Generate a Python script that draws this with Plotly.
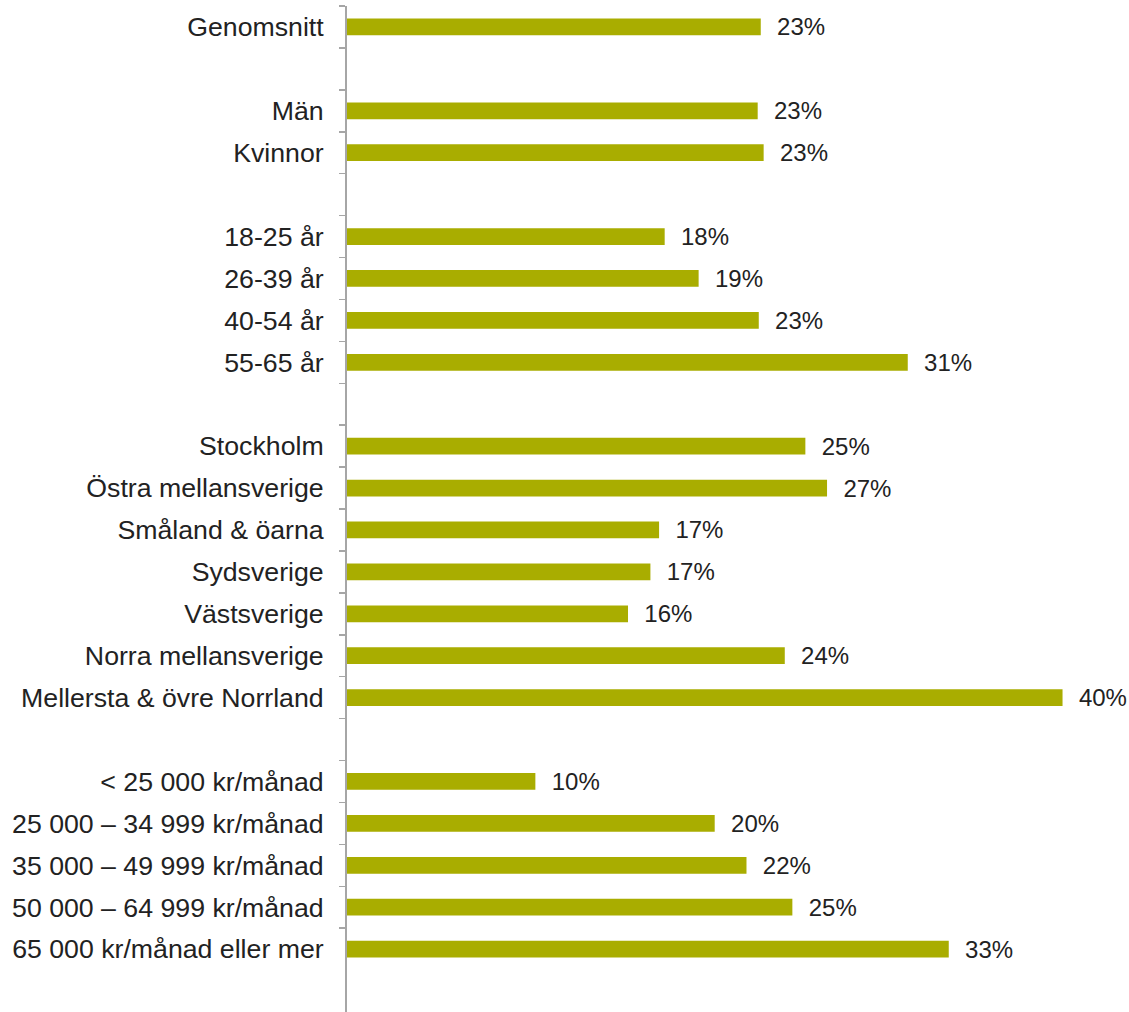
import plotly.graph_objects as go

categories = [
    "Genomsnitt", " ",
    "Män", "Kvinnor", "  ",
    "18-25 år", "26-39 år", "40-54 år", "55-65 år", "   ",
    "Stockholm", "Östra mellansverige", "Småland & öarna", "Sydsverige",
    "Västsverige", "Norra mellansverige", "Mellersta & övre Norrland", "    ",
    "< 25 000 kr/månad", "25 000 – 34 999 kr/månad", "35 000 – 49 999 kr/månad",
    "50 000 – 64 999 kr/månad", "65 000 kr/månad eller mer",
]
values = [
    22.91, None,
    22.74, 23.07, None,
    17.59, 19.47, 22.80, 31.05, None,
    25.38, 26.58, 17.28, 16.80, 15.56, 24.24, 39.62, None,
    10.43, 20.36, 22.12, 24.66, 33.32,
]
labels = ["\u00a0\u00a0" + f"{round(v)}%" if v is not None else "" for v in values]

BAR = "#A9AD00"
AXIS = "#A6A6A6"
TXT = "#222222"
FONT = "Liberation Sans, Arial, sans-serif"

fig = go.Figure(go.Bar(
    x=values, y=categories, orientation="h",
    marker=dict(color=BAR, line=dict(width=0)),
    width=0.4,
    text=labels, textposition="outside",
    textfont=dict(family=FONT, size=24, color=TXT),
    constraintext="none", cliponaxis=False,
    hoverinfo="skip",
))

fig.update_layout(
    width=1129, height=1012,
    margin=dict(l=347, r=0, t=6, b=0, autoexpand=False),
    paper_bgcolor="white", plot_bgcolor="white",
    showlegend=False,
    font=dict(family=FONT, color=TXT),
    xaxis=dict(range=[0, 43.3], visible=False, fixedrange=True),
    yaxis=dict(
        type="category",
        categoryorder="array", categoryarray=categories,
        range=[23.5, -0.5],
        showline=True, linecolor=AXIS, linewidth=2,
        ticks="outside", tickson="boundaries", ticklen=6, tickwidth=1.5, tickcolor=AXIS,
        tickfont=dict(family=FONT, size=26.7, color=TXT),
        ticklabelstandoff=16,
        showgrid=False, zeroline=False, automargin=False, fixedrange=True,
    ),
)

fig.write_html(
    "out.html",
    config={"displayModeBar": False, "staticPlot": True},
    post_script="document.body.style.margin='0';document.body.style.padding='0';",
)
